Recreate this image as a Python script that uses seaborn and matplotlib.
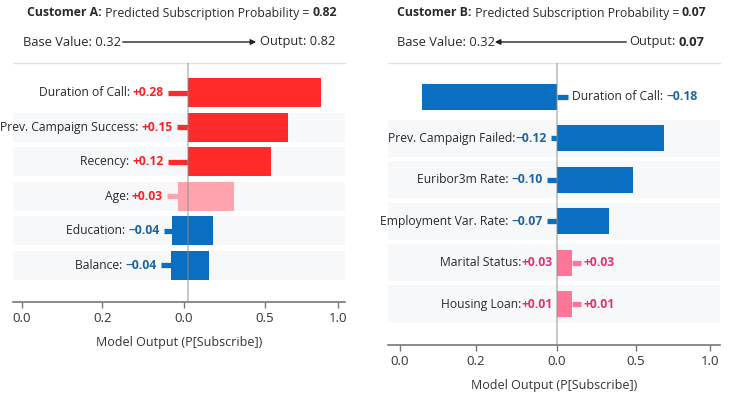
import matplotlib
matplotlib.use("Agg")
import matplotlib.pyplot as plt
import seaborn as sns

# ---- data ----
# x values are in "model output" units of the axis (centre line = 0)
a_features = ["Duration of Call", "Prev. Campaign Success", "Recency", "Age", "Education", "Balance"]
a_effects = [0.28, 0.15, 0.12, 0.03, -0.04, -0.04]
a_bar_start = [0.0, 0.0, 0.0, -0.064, -0.102, -0.108]
a_bar_end = [0.826, 0.623, 0.517, 0.285, 0.154, 0.129]
a_stub_lo = [-0.127, -0.071, -0.127, -0.133, -0.152, -0.171]
a_stub_hi = [0.0, 0.0, 0.0, -0.064, -0.102, -0.108]
a_ticks = [-1.041, -0.5375, -0.029, 0.479, 0.9375]

b_features = ["Duration of Call", "Prev. Campaign Failed", "Euribor3m Rate", "Employment Var. Rate",
              "Marital Status", "Housing Loan"]
b_effects = [-0.18, -0.12, -0.10, -0.07, 0.03, 0.01]
b_bar_start = [-0.844, 0.0, 0.0, 0.0, 0.0, 0.0]
b_bar_end = [0.0, 0.671, 0.477, 0.327, 0.096, 0.096]
b_stub_lo = [0.0, -0.037, -0.063, -0.063, 0.096, 0.096]
b_stub_hi = [0.071, 0.0, 0.0, 0.0, 0.152, 0.152]
b_ticks = [-0.979, -0.504, 0.0, 0.496, 0.958]

tick_labels = ["0.0", "0.2", "0.0", "0.5", "1.0"]
base_value = 0.32
a_output = 0.82
b_output = 0.07

# ---- styles ----
RED = "#ff2b2b"
PINK_A = "#ffa3ae"
BLUE = "#0b6fc1"
PINK_B = "#ff7598"
T_RED = "#f52525"
T_BLUE = "#1d63a6"
T_PINK = "#ea3068"
DARK = "#2a2a2a"
a_colors = [RED, RED, RED, PINK_A, BLUE, BLUE]
a_tcolors = [T_RED, T_RED, T_RED, T_RED, T_BLUE, T_BLUE]
b_colors = [BLUE, BLUE, BLUE, BLUE, PINK_B, PINK_B]
b_tcolors = [T_BLUE, T_BLUE, T_BLUE, T_BLUE, T_PINK, T_PINK]
b_seps = [": ", ":", ": ", ": ", ":", ":"]

sns.set_theme(style="white")
plt.rcParams["font.family"] = ["Open Sans", "DejaVu Sans"]

W, H = 731, 397
fig = plt.figure(figsize=(W / 100, H / 100), dpi=100)


def px_axes(x0, y0, x1, y1):
    return fig.add_axes([x0 / W, 1 - y1 / H, (x1 - x0) / W, (y1 - y0) / H])


def signed(v):
    return ("+" if v > 0 else "\u2212") + f"{abs(v):.2f}"


def draw_panel(ax, feats, effects, start, end, s_lo, s_hi, colors, tcolors, seps,
               ticks, xlim, ylim, bar_w, band, fs):
    for vals in (end, start):
        sns.barplot(x=vals, y=feats, hue=feats, order=feats, hue_order=feats, palette=colors,
                    orient="h", width=bar_w, saturation=1, errorbar=None, legend=False,
                    linewidth=0, ax=ax)
    for i in range(len(feats)):
        ax.hlines(i, s_lo[i], s_hi[i], color=colors[i], lw=3.8, zorder=3)
        if i > 0:
            ax.axhspan(i - band, i + band, color="#f7f8fa", zorder=0, lw=0)
        lo, hi = min(start[i], end[i]), max(start[i], end[i])
        val = signed(effects[i])
        name = feats[i] + seps[i]
        if s_lo[i] < lo - 1e-9:
            anchor, side, echo = s_lo[i], "left", False
        elif lo < 0:
            anchor, side, echo = s_hi[i], "right", False
        else:
            anchor, side, echo = lo, "left", True
        if side == "left":
            v = ax.annotate(val, (anchor, i), xytext=(-3, 0), textcoords="offset points",
                            ha="right", va="center", fontsize=fs, color=tcolors[i], weight="bold")
            ax.annotate(name, (0, 0), xycoords=v, ha="right", va="bottom", fontsize=fs, color=DARK)
        else:
            n = ax.annotate(name, (anchor, i), xytext=(3, 0), textcoords="offset points",
                            ha="left", va="center", fontsize=fs, color=DARK)
            ax.annotate(val, (1, 0), xycoords=n, ha="left", va="bottom", fontsize=fs,
                        color=tcolors[i], weight="bold")
        if echo:
            ax.annotate(val, (s_hi[i], i), xytext=(2, 0), textcoords="offset points",
                        ha="left", va="center", fontsize=fs, color=tcolors[i], weight="bold")
    ax.axvline(0, color="#8a8a8a", alpha=0.55, lw=1.2, zorder=4)
    ax.set_xlim(*xlim)
    ax.set_ylim(*ylim)
    ax.set_yticks([])
    ax.set_ylabel("")
    ax.set_xticks(ticks)
    ax.set_xticklabels(tick_labels)
    ax.tick_params(axis="x", bottom=True, length=4, width=1, color="#777777", pad=3,
                   labelsize=9.5, labelcolor="#333333")
    ax.set_xlabel("Model Output (P[Subscribe])", fontsize=9, color="#333333", labelpad=8)
    for s in ("left", "right"):
        ax.spines[s].set_visible(False)
    ax.spines["top"].set_color("#e2e2e2")
    ax.spines["top"].set_linewidth(1)
    ax.spines["bottom"].set_color("#777777")
    ax.spines["bottom"].set_linewidth(1.2)
    ax.set_facecolor("white")


def title_chain(x_px, y_px, parts, fs):
    prev = fig.text(x_px / W, 1 - y_px / H, parts[0][0], ha="left", va="center", fontsize=fs,
                    weight=parts[0][1], color=DARK)
    for txt, wt in parts[1:]:
        prev = fig.add_artist(matplotlib.text.Annotation(
            txt, (1, 0), xycoords=prev, ha="left", va="bottom", fontsize=fs, weight=wt, color=DARK))
    return prev


ax_a = px_axes(13, 63, 345, 302)
draw_panel(ax_a, a_features, a_effects, a_bar_start, a_bar_end, a_stub_lo, a_stub_hi,
           a_colors, a_tcolors, [": "] * 6, a_ticks, (-1.096, 0.979), (6.07, -0.855),
           0.84, 0.42, 8.7)

ax_b = px_axes(388, 63, 720, 345)
draw_panel(ax_b, b_features, b_effects, b_bar_start, b_bar_end, b_stub_lo, b_stub_hi,
           b_colors, b_tcolors, b_seps, b_ticks, (-1.054, 1.021), (5.99, -0.82),
           0.63, 0.45, 8.7)

# titles
title_chain(27, 13, [("Customer A:", "bold"), (" Predicted Subscription Probability = ", "normal"),
                     (f"{a_output:.2f}", "bold")], 8.8)
title_chain(397, 13, [("Customer B:", "bold"), (" Predicted Subscription Probability = ", "normal"),
                      (f"{b_output:.2f}", "bold")], 8.8)

# base value -> output lines
fs_sub = 9.3
fig.text(23 / W, 1 - 42 / H, f"Base Value: {base_value:.2f}", ha="left", va="center",
         fontsize=fs_sub, color=DARK)
fig.text(335 / W, 1 - 42 / H, f"Output: {a_output:.2f}", ha="right", va="center",
         fontsize=fs_sub, color=DARK)
fig.add_artist(matplotlib.patches.FancyArrowPatch(
    (120 / W, 1 - 42 / H), (259 / W, 1 - 42 / H), transform=fig.transFigure,
    arrowstyle="-|>", mutation_scale=8, lw=1, color="#222222"))

fig.text(397 / W, 1 - 42 / H, f"Base Value: {base_value:.2f}", ha="left", va="center",
         fontsize=fs_sub, color=DARK)
o = fig.text(704 / W, 1 - 42 / H, f"{b_output:.2f}", ha="right", va="center",
             fontsize=fs_sub, color=DARK, weight="bold")
fig.add_artist(matplotlib.text.Annotation("Output:", (0, 0), xycoords=o, xytext=(-1.5, 0),
                                          textcoords="offset points", ha="right", va="bottom",
                                          fontsize=fs_sub, color=DARK))
fig.add_artist(matplotlib.patches.FancyArrowPatch(
    (629 / W, 1 - 42 / H), (492 / W, 1 - 42 / H), transform=fig.transFigure,
    arrowstyle="-|>", mutation_scale=8, lw=1, color="#222222"))

fig.savefig("out.png", dpi=100, facecolor="white")
